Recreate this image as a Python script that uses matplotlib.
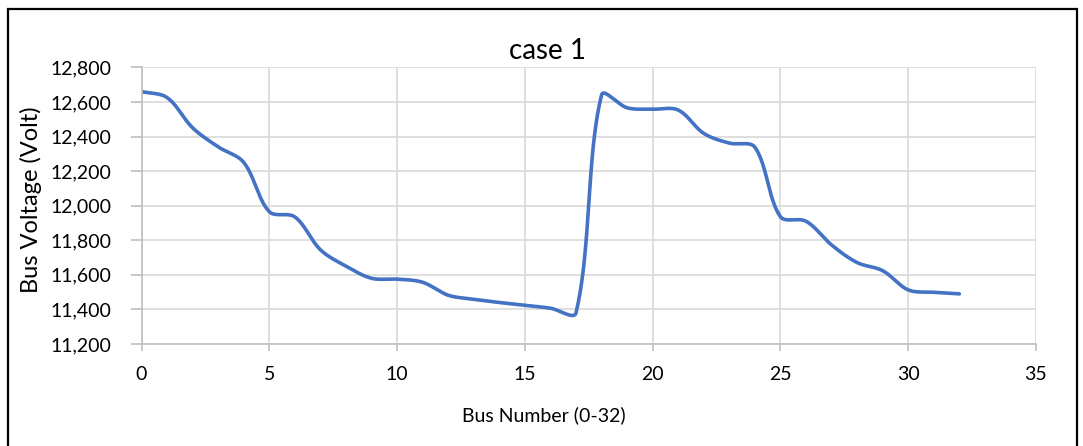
import numpy as np
import matplotlib
matplotlib.use('Agg')
from matplotlib import pyplot as plt
from matplotlib.patches import Rectangle
from matplotlib.ticker import FuncFormatter

# bus numbers and voltages
buses = list(range(33))
voltages = [12660, 12625, 12450, 12340, 12250, 11965, 11935, 11745, 11650, 11580,
            11575, 11557, 11482, 11459, 11440, 11424, 11407, 11380, 12640, 12566,
            12558, 12553, 12418, 12362, 12338, 11936, 11910, 11773, 11671, 11624,
            11513, 11499, 11490]

x_ticks = [0, 5, 10, 15, 20, 25, 30, 35]
y_ticks = [11200, 11400, 11600, 11800, 12000, 12200, 12400, 12600, 12800]


def suavizar(xs, ys, sx=25.5, sy=0.173, n=40):
    ''' Curva suavizada parecida a la de Excel: Bezier por los puntos,
    con tangentes ponderadas por la longitud de los tramos en pantalla '''
    x = np.array(xs, dtype=float)
    y = np.array(ys, dtype=float)
    xp = np.concatenate([[x[0]], x, [x[-1]]])
    yp = np.concatenate([[y[0]], y, [y[-1]]])
    d = np.hypot(np.diff(xp) * sx, np.diff(yp) * sy)
    d[d == 0] = 1e-9
    out_x, out_y = [], []
    t = np.linspace(0, 1, n, endpoint=False)
    for i in range(1, len(xp) - 2):
        p0, p1, p2, p3 = i - 1, i, i + 1, i + 2
        d01, d12, d23 = d[p0], d[p1], d[p2]
        f1 = d12 / (d01 + d12) / 3
        f2 = d12 / (d12 + d23) / 3
        c1x = xp[p1] + (xp[p2] - xp[p0]) * f1
        c1y = yp[p1] + (yp[p2] - yp[p0]) * f1
        c2x = xp[p2] - (xp[p3] - xp[p1]) * f2
        c2y = yp[p2] - (yp[p3] - yp[p1]) * f2
        bx = (1 - t) ** 3 * xp[p1] + 3 * (1 - t) ** 2 * t * c1x + 3 * (1 - t) * t ** 2 * c2x + t ** 3 * xp[p2]
        by = (1 - t) ** 3 * yp[p1] + 3 * (1 - t) ** 2 * t * c1y + 3 * (1 - t) * t ** 2 * c2y + t ** 3 * yp[p2]
        out_x.extend(bx)
        out_y.extend(by)
    out_x.append(x[-1])
    out_y.append(y[-1])
    return out_x, out_y


plt.rcParams['font.family'] = ['Lato', 'DejaVu Sans']

fig = plt.figure(figsize=(10.83, 4.46), dpi=100)
ax = fig.add_axes([0.1307, 0.2287, 0.8259, 0.6203])

sx, sy = suavizar(buses, voltages)
ax.plot(sx, sy, color='#4472C4', linewidth=2.6, solid_capstyle='round')

ax.set_xlim(0, 35)
ax.set_ylim(11200, 12800)
ax.set_xticks(x_ticks)
ax.set_yticks(y_ticks)
ax.yaxis.set_major_formatter(FuncFormatter(lambda v, p: '{:,.0f}'.format(v)))
ax.grid(True, color='#d9d9d9', linewidth=1.2)
ax.set_axisbelow(True)
for s in ['top', 'right']:
    ax.spines[s].set_visible(False)
for s in ['left', 'bottom']:
    ax.spines[s].set_color('#bfbfbf')
    ax.spines[s].set_linewidth(1.2)
ax.tick_params(axis='both', colors='#bfbfbf', labelcolor='black', labelsize=14, width=1.2)
ax.tick_params(axis='x', length=5, pad=11)
ax.tick_params(axis='y', length=8, pad=14)

ax.set_xlabel('Bus Number (0-32)', fontsize=14)
ax.xaxis.set_label_coords(0.45, -0.225)
ax.set_ylabel('Bus Voltage (Volt)', fontsize=17)
ax.yaxis.set_label_coords(-0.111, 0.52)
fig.text(0.506, 0.885, 'case 1', fontsize=20, ha='center', va='center')

fig.patches.append(Rectangle((8 / 1083, -0.05), 1069 / 1083, 1.05 - 9 / 446,
                             transform=fig.transFigure, fill=False,
                             edgecolor='black', linewidth=1.6))

fig.savefig('out.png', dpi=100)
